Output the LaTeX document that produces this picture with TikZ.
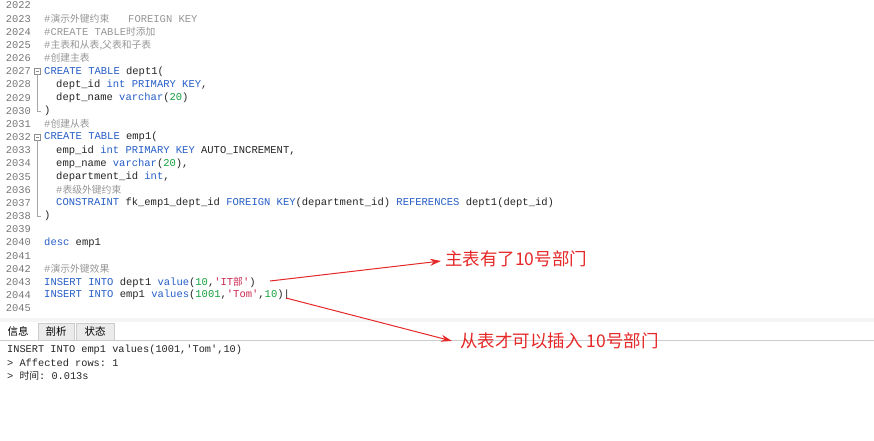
\documentclass[tikz,border=0pt]{standalone}
\usepackage{fontspec}
\setmonofont{Liberation Mono}
\newfontfamily\cjk{Noto Sans CJK SC}
\usetikzlibrary{arrows.meta}
\definecolor{kw}{RGB}{40,95,200}
\definecolor{cm}{RGB}{150,150,150}
\definecolor{nm}{RGB}{20,160,60}
\definecolor{st}{RGB}{205,40,80}
\definecolor{ln}{RGB}{120,120,120}
\definecolor{ar}{RGB}{230,40,40}
\newcommand{\kwd}[1]{\textcolor{kw}{#1}}
\newcommand{\nmb}[1]{\textcolor{nm}{#1}}
\newcommand{\strg}[1]{\textcolor{st}{#1}}
\newcommand{\cjkt}[1]{{\cjk\fontsize{9.8pt}{10pt}\selectfont #1}}
\newcommand{\codeL}[3]{%
  \node[lnum] (n#1) at (31,{-5.5-13.17*(#1-2022)}) {#1};
  \node[code] (c#1) at (#2,{-5.5-13.17*(#1-2022)}) {#3};}
\begin{document}
\begin{tikzpicture}[x=1pt,y=1pt,
  lnum/.style={anchor=east,inner sep=0,font=\ttfamily\fontsize{10.4pt}{12pt}\selectfont,text=ln},
  code/.style={anchor=west,inner sep=0,font=\ttfamily\fontsize{10.5pt}{12pt}\selectfont,text=black!85},
  note/.style={anchor=west,inner sep=0,font=\cjk\fontsize{17.5pt}{20pt}\selectfont,text=ar},
  arr/.style={draw=ar,line width=1pt,-{Stealth[length=11pt,width=7pt]}},
  tab/.style={draw=black!20,fill=black!8,minimum height=17pt,inner sep=0,font=\cjk\fontsize{10.5pt}{12pt}\selectfont}]
\useasboundingbox[fill=white] (0,0) rectangle (874,-440);
\codeL{2022}{44}{}
\codeL{2023}{44}{\textcolor{cm}{\#\cjkt{演示外键约束}\ \ \ FOREIGN KEY}}
\codeL{2024}{44}{\textcolor{cm}{\#CREATE TABLE\cjkt{时添加}}}
\codeL{2025}{44}{\textcolor{cm}{\#\cjkt{主表和从表,父表和子表}}}
\codeL{2026}{44}{\textcolor{cm}{\#\cjkt{创建主表}}}
\codeL{2027}{44}{\kwd{CREATE TABLE} dept1(}
\codeL{2028}{56}{dept\_id \kwd{int PRIMARY KEY},}
\codeL{2029}{56}{dept\_name \kwd{varchar}(\nmb{20})}
\codeL{2030}{44}{)}
\codeL{2031}{44}{\textcolor{cm}{\#\cjkt{创建从表}}}
\codeL{2032}{44}{\kwd{CREATE TABLE} emp1(}
\codeL{2033}{56}{emp\_id \kwd{int PRIMARY KEY} AUTO\_INCREMENT,}
\codeL{2034}{56}{emp\_name \kwd{varchar}(\nmb{20}),}
\codeL{2035}{56}{department\_id \kwd{int},}
\codeL{2036}{56}{\textcolor{cm}{\#\cjkt{表级外键约束}}}
\codeL{2037}{56}{\kwd{CONSTRAINT} fk\_emp1\_dept\_id \kwd{FOREIGN KEY}(department\_id) \kwd{REFERENCES} dept1(dept\_id)}
\codeL{2038}{44}{)}
\codeL{2039}{44}{}
\codeL{2040}{44}{\kwd{desc} emp1}
\codeL{2041}{44}{}
\codeL{2042}{44}{\textcolor{cm}{\#\cjkt{演示外键效果}}}
\codeL{2043}{44}{\kwd{INSERT INTO} dept1 \kwd{value}(\nmb{10},\strg{'IT\cjkt{部}'})}
\codeL{2044}{44}{\kwd{INSERT INTO} emp1 \kwd{values}(\nmb{1001},\strg{'Tom'},\nmb{10})|}
\codeL{2045}{44}{}
% fold markers
\foreach \a/\b in {2027/2030,2032/2038}{
  \draw[black!45,line width=0.4pt] (34.5,{-2.5-13.17*(\a-2022)}) rectangle (40.5,{-8.5-13.17*(\a-2022)});
  \draw[black!45,line width=0.4pt] (35.8,{-5.5-13.17*(\a-2022)}) -- (39.2,{-5.5-13.17*(\a-2022)});
  \draw[black!35,line width=0.4pt] (37.5,{-8.5-13.17*(\a-2022)}) -- (37.5,{-5.5-13.17*(\b-2022)}) -- (41,{-5.5-13.17*(\b-2022)});
}
% bottom panel
\fill[black!4] (0,-318) rectangle (874,-322);
\draw[black!20] (0,-340) -- (874,-340);
\node[tab,fill=white,draw=none,minimum width=36pt,anchor=south west] (t1) at (0,-340) {信息};
\node[tab,minimum width=36pt,anchor=south west] (t2) at (38,-340) {剖析};
\node[tab,minimum width=38pt,anchor=south west] (t3) at (76,-340) {状态};
\node[code,font=\ttfamily\fontsize{10.3pt}{12pt}\selectfont] (o1) at (7,-350) {INSERT INTO emp1 values(1001,'Tom',10)};
\node[code,font=\ttfamily\fontsize{10.3pt}{12pt}\selectfont] (o2) at (7,-363) {> Affected rows: 1};
\node[code,font=\ttfamily\fontsize{10.3pt}{12pt}\selectfont] (o3) at (7,-376) {> \cjkt{时间}: 0.013s};
% notes
\node[note] (m1) at (445,-259) {主表有了10号部门};
\node[note] (m2) at (460,-341) {从表才可以插入 10号部门};
\coordinate (s1) at (270,-281);
\coordinate (s2) at (286,-298);
\draw[arr] (s1) -- ([xshift=-4pt,yshift=-2pt]m1.west);
\draw[arr] (s2) -- ([xshift=-8pt]m2.west);
\end{tikzpicture}
\end{document}
